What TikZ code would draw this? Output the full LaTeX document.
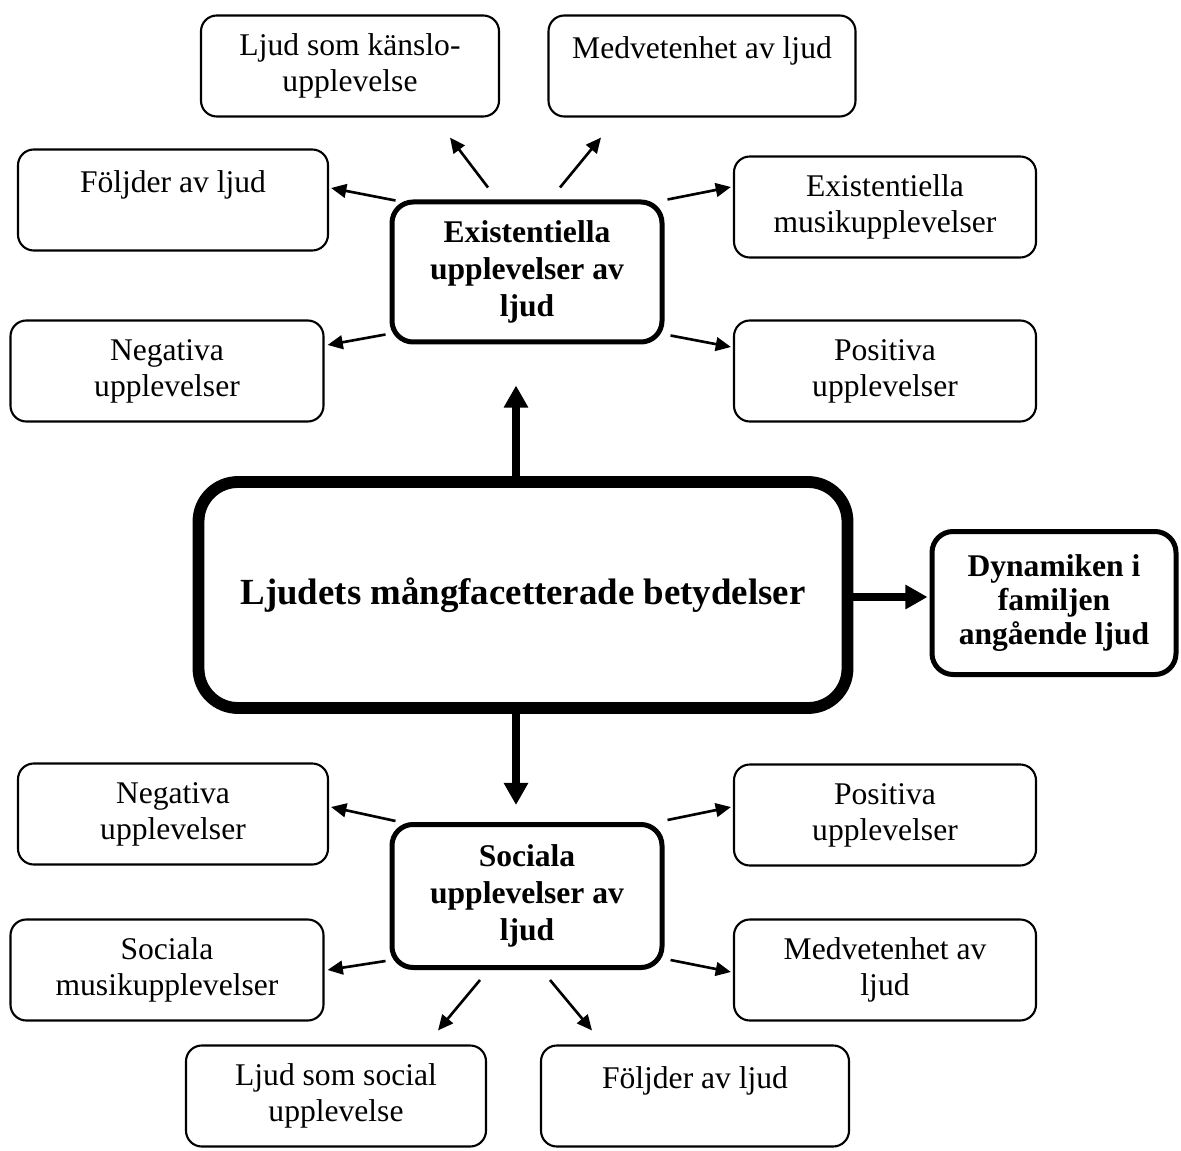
\documentclass[tikz,border=0pt]{standalone}
\usepackage{fontspec}
\setmainfont{Liberation Serif}
\usetikzlibrary{arrows.meta,calc}
\newcommand{\px}{0.38pt}

\begin{document}
\begin{tikzpicture}[x=0.38pt, y=-0.38pt,
    smallbox/.style={draw, line width=0.8pt, rounded corners=6pt, align=center,
      minimum height=101*\px, inner sep=0pt, font=\fontsize{12}{13.7}\selectfont},
    hubbox/.style={draw, line width=1.9pt, rounded corners=8pt, align=center,
      inner sep=0pt, font=\fontsize{12}{14}\selectfont\bfseries},
    corebox/.style={draw, line width=4.5pt, rounded corners=15pt, align=center,
      minimum width=649*\px, minimum height=226*\px, font=\fontsize{14}{16}\selectfont\bfseries},
    arr/.style={line width=1pt, -{Triangle[length=5.8pt,width=5.2pt]}},
    bigarr/.style={line width=3pt, -{Triangle[length=8.4pt,width=8.8pt]}}]
    \useasboundingbox (0, 0) rectangle (1181, 1151);

    % middle
    \node[corebox] (main) at (523, 595) {Ljudets mångfacetterade betydelser};
    \node[hubbox, minimum width=270*\px, minimum height=140*\px] (exist) at (527, 272)
      {Existentiella\\upplevelser av\\ljud};
    \node[hubbox, minimum width=270*\px, minimum height=143*\px] (soc) at (527, 896)
      {Sociala\\upplevelser av\\ljud};
    \node[hubbox, minimum width=244*\px, minimum height=143*\px,
      font=\fontsize{12}{13}\selectfont\bfseries] (dyn) at (1054, 603)
      {Dynamiken i\\familjen\\angående ljud};

    % existentiella
    \node[smallbox, minimum width=298*\px] (kanslo) at (350, 66) {Ljud som känslo-\\upplevelse};
    \node[smallbox, minimum width=307*\px] (medv1) at (702, 66) {Medvetenhet av ljud\\\phantom{x}};
    \node[smallbox, minimum width=310*\px] (foljd1) at (173, 200) {Följder av ljud\\\phantom{x}};
    \node[smallbox, minimum width=302*\px] (exmusik) at (885, 207) {Existentiella\\musikupplevelser};
    \node[smallbox, minimum width=313*\px] (neg1) at (167, 371) {Negativa\\upplevelser};
    \node[smallbox, minimum width=302*\px] (pos1) at (885, 371) {Positiva\\upplevelser};

    % sociala
    \node[smallbox, minimum width=310*\px] (neg2) at (173, 814) {Negativa\\upplevelser};
    \node[smallbox, minimum width=302*\px] (pos2) at (885, 815) {Positiva\\upplevelser};
    \node[smallbox, minimum width=313*\px] (socmusik) at (167, 970) {Sociala\\musikupplevelser};
    \node[smallbox, minimum width=302*\px] (medv2) at (885, 970) {Medvetenhet av\\ljud};
    \node[smallbox, minimum width=300*\px] (ljudsoc) at (336, 1096) {Ljud som social\\upplevelse};
    \node[smallbox, minimum width=308*\px] (foljd2) at (695, 1096) {Följder av ljud\\\phantom{x}};

    % thick arrows
    \draw[bigarr] ($(main.north)+(-7, 0)$) -- ($(exist.south)+(-11, 41)$);
    \draw[bigarr] ($(main.south)+(-7, 0)$) -- ($(soc.north)+(-11, -17)$);
    \draw[bigarr] ($(main.east)+(0, 2)$) -- ($(dyn.west)+(-2, -6)$);

    % thin arrows, top
    \draw[arr] ($(exist.north west)+(6, 1)$) -- ($(foljd1.east)+(2, -12)$);
    \draw[arr] ($(exist.south west)+(-4, -10)$) -- ($(neg1.east)+(3, -26)$);
    \draw[arr] ($(exist.north east)+(3, 0)$) -- ($(exmusik.west)+(-2, -20)$);
    \draw[arr] ($(exist.south east)+(6, -9)$) -- ($(pos1.west)+(-2, -24)$);
    \draw[arr] ($(exist.north)+(-39, -12)$) -- ($(kanslo.south)+(100, 20)$);
    \draw[arr] ($(exist.north)+(33, -12)$) -- ($(medv1.south)+(-101, 20)$);

    % thin arrows, bottom
    \draw[arr] ($(soc.north west)+(6, -1)$) -- ($(neg2.east)+(2, -7)$);
    \draw[arr] ($(soc.north east)+(3, -2)$) -- ($(pos2.west)+(-2, -8)$);
    \draw[arr] ($(soc.south west)+(-4, -9)$) -- ($(socmusik.east)+(3, 0)$);
    \draw[arr] ($(soc.south east)+(6, -10)$) -- ($(medv2.west)+(-2, 2)$);
    \draw[arr] ($(soc.south)+(-47, 10)$) -- ($(ljudsoc.north)+(102, -14)$);
    \draw[arr] ($(soc.south)+(23, 10)$) -- ($(foljd2.north)+(-103, -14)$);
\end{tikzpicture}
\end{document}
